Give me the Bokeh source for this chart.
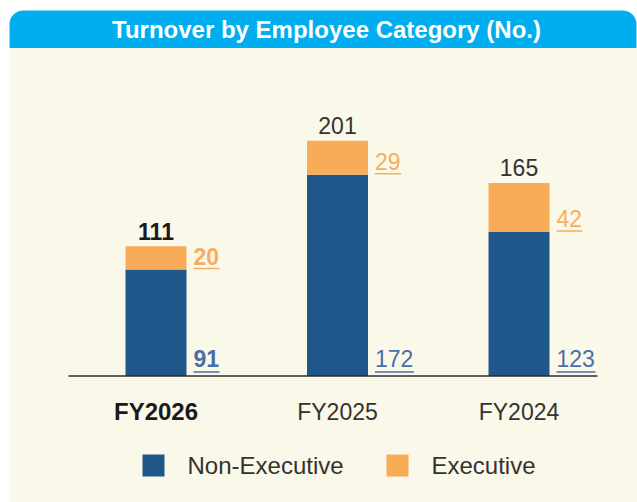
from bokeh.plotting import figure
from bokeh.models import ColumnDataSource, Range1d, BoxAnnotation
from bokeh.core.properties import value
from bokeh.embed import file_html
from bokeh.resources import INLINE

# ---- data ----
categories = ["FY2026", "FY2025", "FY2024"]
non_executive = [91, 172, 123]
executive = [20, 29, 42]
totals = [111, 201, 165]
legend_labels = ["Non-Executive", "Executive"]
title_text = "Turnover by Employee Category (No.)"

# ---- styles ----
FONT = "Liberation Sans"
BLUE = "#1f578b"
ORANGE = "#f9ac58"
BLUE_TXT = "#4a6ea6"
ORANGE_TXT = "#f7ad62"
HEADER = "#00aeef"
BEIGE = "#faf8e8"
DARK = "#333333"

W, H = 637, 502
X0, XS = 155.5, 181.5   # pixel of first bar centre, pixel spacing between bars
Y0, K = 375.5, 1.17     # pixel of baseline, pixels per unit
TOFF = 8                # text baseline correction (px)


def px_x(px):
    return (px - X0) / XS


def px_y(py):
    return (Y0 - py) / K


def dx(px):
    return px / XS


def dy(py):
    return py / K


p = figure(width=W, height=H, output_backend="svg", toolbar_location=None,
           x_range=Range1d(px_x(0), px_x(W)), y_range=Range1d(px_y(H), px_y(0)),
           x_axis_type=None, y_axis_type=None, min_border=0,
           background_fill_color="white", border_fill_color="white")
p.outline_line_color = None

# background panels
p.add_layout(BoxAnnotation(left=px_x(9), top=px_y(48), fill_color=BEIGE, fill_alpha=1,
                           line_color=None, level="underlay"))
p.add_layout(BoxAnnotation(left=px_x(9), right=px_x(636), top=px_y(10), bottom=px_y(47.5),
                           fill_color=HEADER, fill_alpha=1, line_color=None, level="underlay",
                           border_radius=dict(top_left=14, top_right=14, bottom_right=0, bottom_left=0)))
p.text(x=[px_x(326)], y=[px_y(36.5 - TOFF)], text=[title_text], text_align="center",
       text_baseline="alphabetic", text_font=value(FONT), text_font_size="24px",
       text_font_style="bold", text_color="white")

xs = list(range(len(categories)))
top = [n + e for n, e in zip(non_executive, executive)]
bold = ["bold"] + ["normal"] * (len(categories) - 1)
lx = [x + dx(37.5) for x in xs]

src = ColumnDataSource(dict(
    x=xs, cat=categories, ne=non_executive, ex=executive, top=top,
    tot_s=[str(t) for t in totals], ne_s=[str(v) for v in non_executive],
    ex_s=[str(v) for v in executive],
    ty=[t + dy(7 + TOFF) for t in top],
    tstyle=bold,
    tcolor=["#1a1a1a"] + [DARK] * (len(categories) - 1),
    csize=["24px"] + ["23px"] * (len(categories) - 1),
    lx=lx,
    ey=[n + dy(5.5 + TOFF) for n in non_executive],
    eu=[n + dy(1) for n in non_executive],
    ex1=[l + dx(13 * len(str(v))) for l, v in zip(lx, executive)],
    ny=[dy(10 + TOFF)] * len(categories),
    nu=[dy(4)] * len(categories),
    nx1=[l + dx(13 * len(str(v))) for l, v in zip(lx, non_executive)],
    cy=[px_y(419 - TOFF)] * len(categories),
))

BW = dx(61)
p.vbar(x="x", width=BW, bottom=0, top="ne", source=src, fill_color=BLUE, line_color=None)
p.vbar(x="x", width=BW, bottom="ne", top="top", source=src, fill_color=ORANGE, line_color=None)

# baseline
p.segment(x0=[px_x(68)], x1=[px_x(597)], y0=[0], y1=[0], line_color="#2b2b2b", line_width=1.5)

# totals
p.text(x="x", y="ty", text="tot_s", source=src, text_align="center", text_baseline="alphabetic",
       text_font=value(FONT), text_font_size="23px", text_font_style="tstyle", text_color="tcolor")
# executive labels
p.text(x="lx", y="ey", text="ex_s", source=src, text_align="left", text_baseline="alphabetic",
       text_font=value(FONT), text_font_size="23px", text_font_style="tstyle", text_color=ORANGE_TXT)
p.segment(x0="lx", x1="ex1", y0="eu", y1="eu", source=src, line_color=ORANGE_TXT, line_width=1.5)
# non-executive labels
p.text(x="lx", y="ny", text="ne_s", source=src, text_align="left", text_baseline="alphabetic",
       text_font=value(FONT), text_font_size="23px", text_font_style="tstyle", text_color=BLUE_TXT)
p.segment(x0="lx", x1="nx1", y0="nu", y1="nu", source=src, line_color=BLUE_TXT, line_width=1.5)
# category labels
p.text(x="x", y="cy", text="cat", source=src, text_align="center", text_baseline="alphabetic",
       text_font=value(FONT), text_font_size="csize", text_font_style="tstyle", text_color="tcolor")

# legend
p.quad(left=[px_x(142), px_x(386)], right=[px_x(164), px_x(408)],
       top=[px_y(454)] * 2, bottom=[px_y(476)] * 2,
       fill_color=[BLUE, ORANGE], line_color=None)
p.text(x=[px_x(187), px_x(431)], y=[px_y(473 - TOFF)] * 2, text=legend_labels,
       text_align="left", text_baseline="alphabetic", text_font=value(FONT),
       text_font_size="24px", text_color=DARK)

open("out.html", "w").write(file_html(p, INLINE))
